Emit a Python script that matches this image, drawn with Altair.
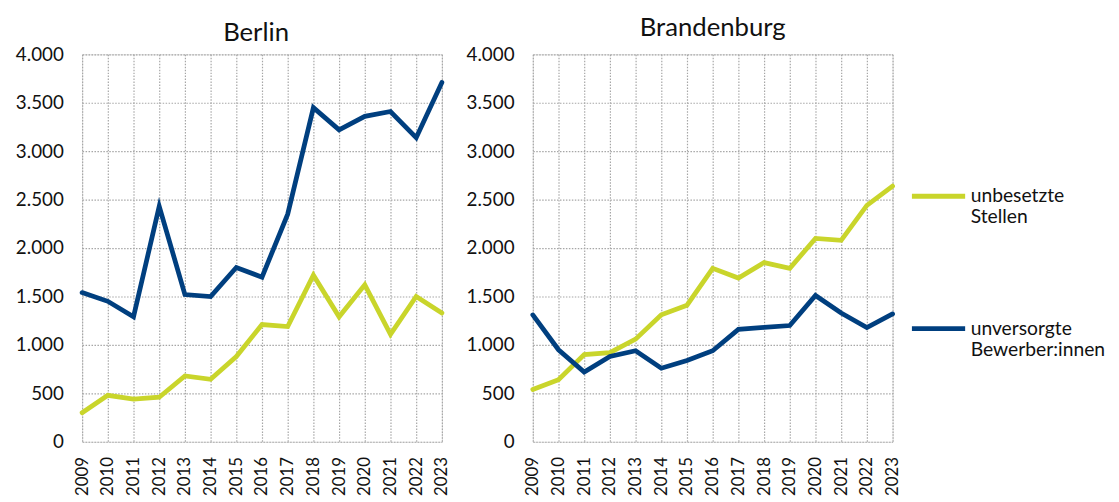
import altair as alt
import pandas as pd

years = list(range(2009, 2024))
series_names = ["unbesetzte Stellen", "unversorgte Bewerber:innen"]
series_colors = ["#c9d52b", "#003f7f"]

berlin_unbesetzt = [300, 480, 440, 460, 680, 645, 880, 1210, 1190, 1720, 1290, 1620, 1110, 1500, 1330]
berlin_unversorgt = [1540, 1450, 1290, 2430, 1520, 1500, 1800, 1700, 2350, 3450, 3220, 3360, 3410, 3140, 3710]
brb_unbesetzt = [540, 640, 900, 920, 1060, 1310, 1410, 1790, 1690, 1850, 1790, 2100, 2080, 2440, 2640]
brb_unversorgt = [1310, 950, 720, 880, 940, 760, 840, 940, 1160, 1180, 1200, 1510, 1330, 1180, 1320]

rows = []
for region, a, b in [("Berlin", berlin_unbesetzt, berlin_unversorgt),
                     ("Brandenburg", brb_unbesetzt, brb_unversorgt)]:
    for y, v in zip(years, a):
        rows.append({"region": region, "year": str(y), "series": series_names[0], "value": v})
    for y, v in zip(years, b):
        rows.append({"region": region, "year": str(y), "series": series_names[1], "value": v})
df = pd.DataFrame(rows)

FONT = "Lato"
grid_kw = dict(grid=True, gridColor="#a6a6a6", gridDash=[1.5, 1.5], gridWidth=1.2,
               domain=False, ticks=False)

color = alt.Color(
    "series:N",
    scale=alt.Scale(domain=series_names, range=series_colors),
    legend=alt.Legend(
        title=None, orient="none", legendX=837, legendY=114,
        symbolType="stroke", symbolStrokeWidth=5, symbolSize=2900,
        labelFont=FONT, labelFontSize=19.5, labelColor="#111111", labelLimit=300,
        labelOffset=3, rowPadding=73,
        labelExpr="datum.label == 'unbesetzte Stellen' ? ['unbesetzte', 'Stellen'] : ['unversorgte', 'Bewerber:innen']",
    ),
)


def panel(region, title_offset, title_dx):
    return (
        alt.Chart(df[df.region == region])
        .mark_line(strokeWidth=4.8, strokeCap="round", strokeJoin="miter")
        .encode(
            x=alt.X("year:O", sort=[str(y) for y in years],
                    scale=alt.Scale(type="point", padding=0),
                    axis=alt.Axis(title=None, labelAngle=270, labelFont=FONT, labelFontSize=17,
                                  labelColor="#111111", labelPadding=15, **grid_kw)),
            y=alt.Y("value:Q", scale=alt.Scale(domain=[0, 4000], nice=False),
                    axis=alt.Axis(title=None, values=list(range(0, 4001, 500)),
                                  labelExpr="replace(format(datum.value, ','), ',', '.')",
                                  labelFont=FONT, labelFontSize=19, labelColor="#111111",
                                  labelPadding=19, **grid_kw)),
            color=color,
        )
        .properties(width=364, height=392,
                    title=alt.TitleParams(region, font=FONT, fontSize=26, fontWeight="normal",
                                          color="#111111", offset=title_offset, dx=title_dx))
    )


chart = (
    alt.hconcat(panel("Berlin", 0, -6), panel("Brandenburg", 5, 0), spacing=12)
    .configure_view(stroke=None)
    .configure(padding={"left": 6, "top": 3, "right": 5, "bottom": 0}, background="white")
)

chart.save("out.html", embed_options={"renderer": "svg", "actions": False})
